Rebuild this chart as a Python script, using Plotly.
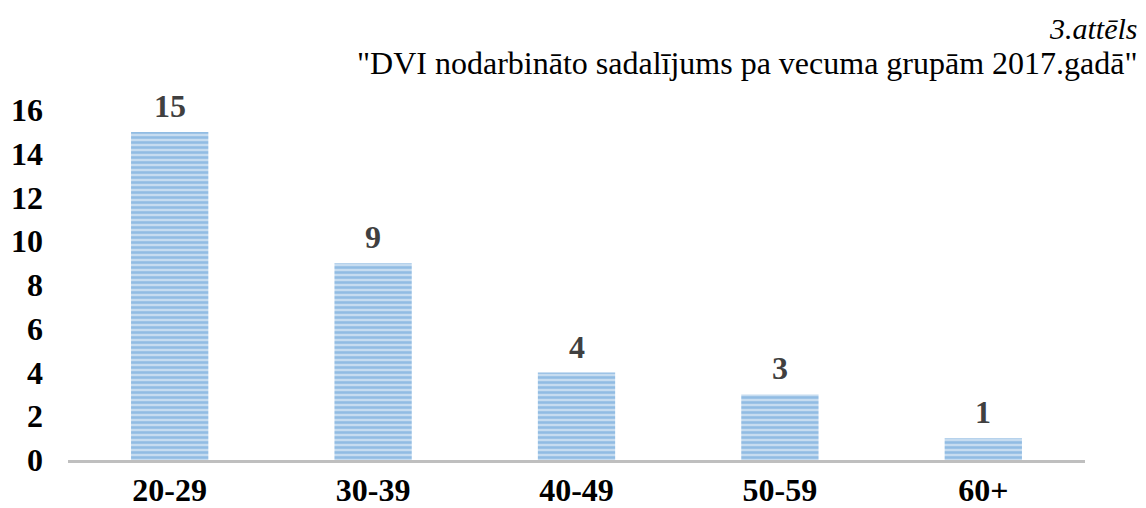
import plotly.graph_objects as go

categories = ["20-29", "30-39", "40-49", "50-59", "60+"]
values = [15, 9, 4, 3, 1]
y_ticks = [0, 2, 4, 6, 8, 10, 12, 14, 16]
caption = "3.attēls"
title = "\"DVI nodarbināto sadalījums pa vecuma grupām 2017.gadā\""

FONT = "Liberation Serif"
PAGE_OFFSET = 8  # default body margin of the html page

fig = go.Figure(go.Bar(
    x=categories, y=values,
    cliponaxis=False,
    marker=dict(
        color="#BDD7EE",
        line=dict(width=0),
        pattern=dict(shape="-", fgcolor="#5B9BD5", bgcolor="#C6DCF0", size=5, solidity=0.5),
    ),
))

annots = [
    dict(text=caption, xref="paper", yref="paper", x=1.054, y=1.234,
         xanchor="right", yanchor="middle", showarrow=False,
         font=dict(family=FONT, size=30, style="italic", color="black")),
    dict(text=title, xref="paper", yref="paper", x=1.054, y=1.134,
         xanchor="right", yanchor="middle", showarrow=False,
         font=dict(family=FONT, size=32, color="black")),
]
for c, v in zip(categories, values):
    annots.append(dict(text=str(v), x=c, y=v, xref="x", yref="y",
                       xanchor="center", yanchor="bottom", yshift=6,
                       showarrow=False,
                       font=dict(family=FONT, size=32, color="#404040", weight="bold")))

fig.update_layout(
    width=1146 - PAGE_OFFSET, height=508 - PAGE_OFFSET,
    margin=dict(l=68 - PAGE_OFFSET, r=61, t=110 - PAGE_OFFSET, b=48, autoexpand=False),
    paper_bgcolor="white", plot_bgcolor="white",
    bargap=0.62,
    showlegend=False,
    font=dict(family=FONT, color="black"),
    annotations=annots,
)
fig.update_xaxes(
    automargin=False,
    showline=True, linecolor="#BFBFBF", linewidth=3,
    showgrid=False, ticks="",
    tickfont=dict(family=FONT, size=32, color="black", weight="bold"),
    ticklabelstandoff=0,
)
fig.update_yaxes(
    automargin=False,
    range=[0, 16], tickvals=y_ticks,
    showline=False, showgrid=False, zeroline=False, ticks="",
    tickfont=dict(family=FONT, size=32, color="black", weight="bold"),
    ticklabelstandoff=24,
)

fig.write_html("out.html")
